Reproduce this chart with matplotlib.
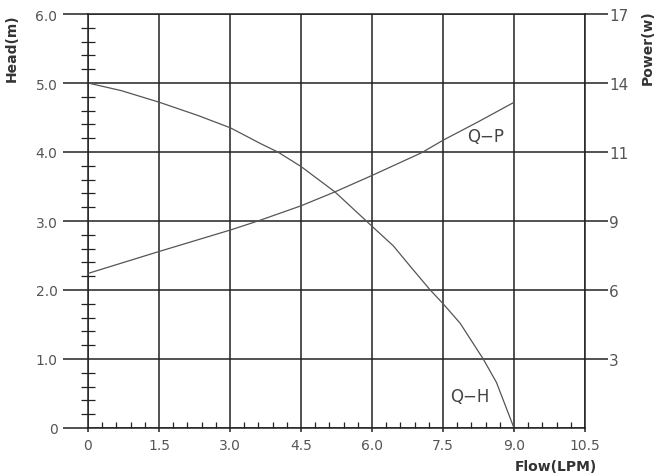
import numpy as np
import matplotlib
matplotlib.use("Agg")
import matplotlib.pyplot as plt
from matplotlib.ticker import FixedLocator, MultipleLocator

# flow (LPM) vs head (m)
qh_flow = [0, 0.70, 1.51, 2.32, 3.01, 3.65, 4.01, 4.5, 5.22, 5.99, 6.45, 6.80, 7.23, 7.49, 7.86, 8.35, 8.63, 9.0]
qh_head = [5.0, 4.89, 4.72, 4.53, 4.35, 4.12, 4.0, 3.79, 3.42, 2.93, 2.64, 2.35, 2.0, 1.81, 1.52, 1.0, 0.66, 0.0]

# flow (LPM) vs power (W)
qp_flow = [0, 1.51, 3.01, 3.59, 4.5, 5.21, 6.0, 7.05, 7.5, 8.25, 9.0]
qp_power = [6.72, 7.68, 8.61, 9.0, 9.44, 9.84, 10.32, 10.98, 11.51, 12.32, 13.16]

x_ticks = [0, 1.5, 3.0, 4.5, 6.0, 7.5, 9.0, 10.5]
x_labels = ["0", "1.5", "3.0", "4.5", "6.0", "7.5", "9.0", "10.5"]
head_ticks = [0, 1, 2, 3, 4, 5, 6]
head_labels = ["0", "1.0", "2.0", "3.0", "4.0", "5.0", "6.0"]
power_ticks = [0, 3, 6, 9, 11, 14, 17]   # power labels sit on the head grid lines

grid_c = "#222222"
line_c = "#555555"
text_c = "#555555"

fig = plt.figure(figsize=(6.65, 4.77), dpi=100)
ax = fig.add_axes([88 / 665, 48 / 477, 497 / 665, 414 / 477])

ax.plot(qh_flow, qh_head, color=line_c, lw=0.9)
ax.set_xlim(0, 10.5)
ax.set_ylim(0, 6)

ax.set_xticks(x_ticks)
ax.set_xticklabels(x_labels)
ax.set_yticks(head_ticks)
ax.set_yticklabels(head_labels)
ax.xaxis.set_minor_locator(MultipleLocator(0.3))
ax.yaxis.set_minor_locator(MultipleLocator(0.2))

ax.grid(True, which="major", color=grid_c, lw=1.1)
for s in ax.spines.values():
    s.set_color(grid_c)
    s.set_linewidth(1.1)

ax.tick_params(axis="x", which="major", direction="out", length=3, width=1.1,
               color=grid_c, labelsize=10, labelcolor=text_c, pad=4)
ax.tick_params(axis="x", which="minor", direction="in", length=4, width=0.9,
               color=grid_c, top=False)
ax.tick_params(axis="y", which="major", direction="out", length=18, width=1.1,
               color=grid_c, labelsize=10, labelcolor=text_c, pad=4)
ax.tick_params(axis="y", which="minor", direction="inout", length=10, width=0.9,
               color=grid_c, left=True, right=True)

# right axis: power, mapped onto the head grid
ax2 = ax.twinx()
fwd = lambda w: np.interp(w, power_ticks, head_ticks)
inv = lambda h: np.interp(h, head_ticks, power_ticks)
ax2.set_yscale("function", functions=(fwd, inv))
ax2.set_ylim(0, 17)
ax2.plot(qp_flow, qp_power, color=line_c, lw=0.9)
ax2.yaxis.set_major_locator(FixedLocator(power_ticks[1:]))
ax2.set_yticklabels([str(t) for t in power_ticks[1:]])
ax2.yaxis.set_minor_locator(FixedLocator([]))
ax2.tick_params(axis="y", which="major", direction="out", length=16.5, width=1.1,
                color=grid_c, labelsize=11, labelcolor=text_c, pad=1)
for s in ax2.spines.values():
    s.set_visible(False)

ax.text(8.39, 4.23, "Q−P", fontsize=12, color="#444444", ha="center", va="center")
ax.text(8.07, 0.46, "Q−H", fontsize=12, color="#444444", ha="center", va="center")

fig.text(12 / 665, 1 - 48 / 477, "Head(m)", rotation=90, ha="center", va="center",
         fontsize=10, fontweight="bold", color="#333333")
fig.text(648 / 665, 1 - 48 / 477, "Power(w)", rotation=90, ha="center", va="center",
         fontsize=10, fontweight="bold", color="#333333")
fig.text(556 / 665, 10 / 477, "Flow(LPM)", ha="center", va="center",
         fontsize=10, fontweight="bold", color="#333333")

fig.savefig("out.png", dpi=100, facecolor="white")
